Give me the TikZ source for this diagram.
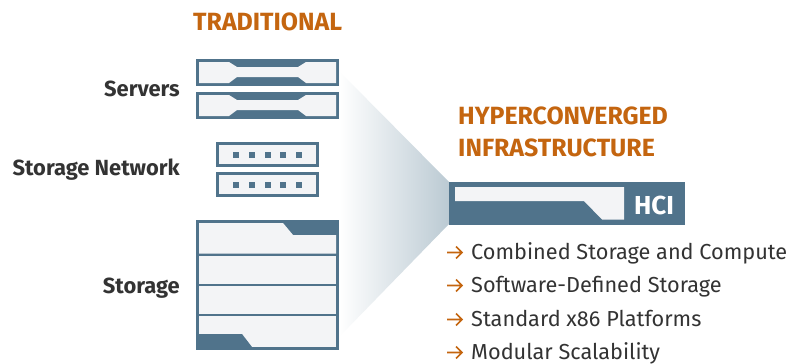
\documentclass[tikz,border=0pt]{standalone}
\usepackage{fontspec}
\setmainfont{Fira Sans}
\definecolor{hcislate}{HTML}{50738B}
\definecolor{hcifill}{HTML}{F3F4F6}
\definecolor{hciorange}{HTML}{C4650F}
\definecolor{hcitext}{HTML}{333333}
\definecolor{hcifade}{HTML}{BBCAD3}
\tikzset{
    heading/.style={text=hciorange, font=\fontsize{24.9}{26}\selectfont\bfseries, anchor=base west, inner sep=0pt},
    rowlabel/.style={text=hcitext, font=\fontsize{21.9}{24}\selectfont\bfseries, anchor=base east, inner sep=0pt},
    bullet/.style={text=hcitext, font=\fontsize{21.7}{24}\selectfont, anchor=base west, inner sep=0pt},
    bulletarrow/.style={hciorange, line width=1.6pt},
    slate/.style={fill=hcislate},
    panel/.style={fill=hcifill},
}
\begin{document}
\begin{tikzpicture}[x=1pt,y=-1pt]
    \useasboundingbox (0,0) rectangle (803,364);
    \fill[white] (0,0) rectangle (803,364);

    %Funnel
    \shade[left color=white, right color=hcifade] (339,71) -- (449,182) -- (449,224) -- (339,337) -- cycle;

    %Servers
    \foreach \y in {59,92}{
        \begin{scope}[shift={(0,\y)}]
            \fill[slate] (196,0) rectangle (339,26.5);
            \fill[panel] (199,3) -- (229,3) -- (237,8) -- (298,8) -- (306,3) -- (336,3)
                -- (336,24) -- (306,24) -- (298,18) -- (237,18) -- (229,24) -- (199,24) -- cycle;
        \end{scope}
    }

    %Network
    \foreach \y in {142,172}{
        \fill[slate] (216,\y) rectangle (319,\y+25);
        \fill[panel] (219,\y+3) rectangle (316,\y+22);
        \foreach \x in {236,252,268,283,299}{
            \fill[slate] (\x-3,\y+10) rectangle (\x+3,\y+16);
        }
    }

    %Storage
    \fill[slate] (196,220) rectangle (339,350);
    \fill[panel] (199,223) -- (283,223) -- (293,235) -- (336,235) -- (336,253.5) -- (199,253.5) -- cycle;
    \fill[panel] (199,255.5) rectangle (336,283.5);
    \fill[panel] (199,285.5) rectangle (336,314);
    \fill[panel] (199,316) rectangle (336,347);
    \fill[slate] (199,334) -- (242,334) -- (252,347) -- (199,347) -- cycle;

    %HCI box
    \fill[slate] (449,182) rectangle (685,225);
    \fill[panel] (455,187) -- (624,187) -- (624,219.5) -- (602,219.5) -- (584,201) -- (455,201) -- cycle;
    \node[text=white, font=\fontsize{26}{28}\selectfont\bfseries, inner sep=0pt] (hci) at (654,205.5) {HCI};

    %Labels
    \node[heading] (traditional) at (193,30) {TRADITIONAL};
    \node[heading] (hyper) at (458,124) {HYPERCONVERGED};
    \node[heading] (infra) at (458,156) {INFRASTRUCTURE};
    \node[rowlabel] (servers) at (180,96) {Servers};
    \node[rowlabel] (network) at (180,175) {Storage Network};
    \node[rowlabel] (storage) at (180,293) {Storage};

    %Bullets
    \foreach \y/\txt in {259/Combined Storage and Compute, 292/Software-Defined Storage, 326/Standard x86 Platforms, 359/Modular Scalability}{
        \node[bullet] at (471,\y) {\txt};
        \draw[bulletarrow] (447,\y-6.5) -- (462,\y-6.5) (456,\y-12.5) -- (462,\y-6.5) -- (456,\y-0.5);
    }
\end{tikzpicture}
\end{document}
